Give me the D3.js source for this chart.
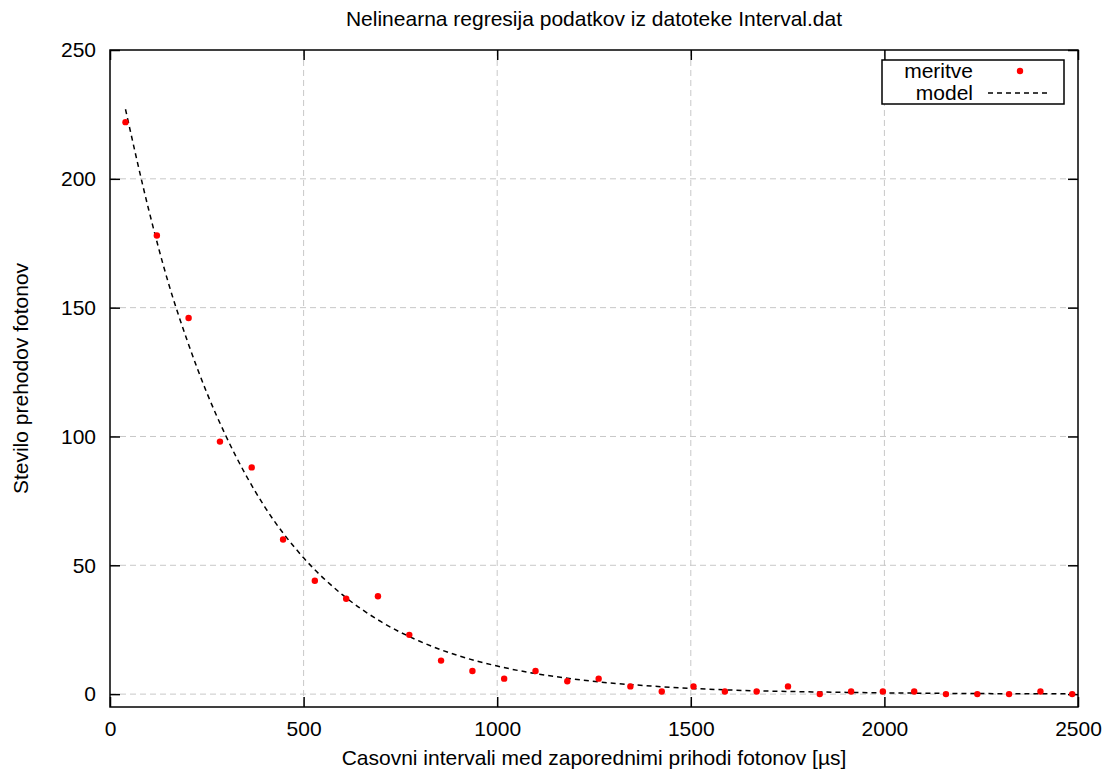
<!DOCTYPE html>
<html>
<head>
<meta charset="utf-8">
<script src="https://cdn.jsdelivr.net/npm/d3@7"></script>
<style>
  body { margin: 0; background: #fff; }
  text { font-family: "Liberation Sans", Arial, sans-serif; fill: #000; }
</style>
</head>
<body>
<svg id="chart" width="1107" height="776"></svg>
<script>
// measured points (interval in us, number of transitions)
const meritveX = [40, 121, 203, 284, 366, 447, 529, 610, 692, 773, 855, 936, 1018, 1099, 1181,
  1262, 1344, 1425, 1507, 1588, 1670, 1751, 1833, 1914, 1996, 2077, 2159, 2240, 2322, 2403, 2485];
const meritveY = [222, 178, 146, 98, 88, 60, 44, 37, 38, 23, 13, 9, 6, 9, 5,
  6, 3, 1, 3, 1, 1, 3, 0, 1, 1, 1, 0, 0, 0, 1, 0];

// fitted model curve
const modelX = [40, 100, 150, 200, 250, 300, 400, 500, 600, 700, 800, 900, 1000, 1200, 1400,
  1600, 1800, 2000, 2200, 2480];
const modelY = [227, 188, 160, 137, 117, 100, 72.6, 52.9, 38.6, 28.1, 20.5, 14.9, 10.9, 5.8, 3.1,
  1.6, 0.9, 0.5, 0.25, 0.1];

const xTicks = [0, 500, 1000, 1500, 2000, 2500];
const yTicks = [0, 50, 100, 150, 200, 250];

const mLeft = 110, mRight = 1078, mTop = 50, mBottom = 707;
const fs = "21px";
const svg = d3.select("#chart");

const x = d3.scaleLinear().domain([0, 2500]).range([mLeft, mRight]);
const y = d3.scaleLinear().domain([-5, 250]).range([mBottom, mTop]);

// grid
const grid = svg.append("g");
grid.selectAll("line.gx")
  .data(xTicks.filter(d => d > 0 && d < 2500))
  .join("line")
  .attr("x1", d => x(d)).attr("x2", d => x(d))
  .attr("y1", mTop).attr("y2", mBottom)
  .attr("stroke", "#c8c8c8").attr("stroke-width", 1).attr("stroke-dasharray", "6,4");
grid.selectAll("line.gy")
  .data(yTicks.filter(d => d < 250))
  .join("line")
  .attr("x1", mLeft).attr("x2", mRight)
  .attr("y1", d => y(d)).attr("y2", d => y(d))
  .attr("stroke", "#c8c8c8").attr("stroke-width", 1).attr("stroke-dasharray", "6,4");

// axes, ticks drawn inward and mirrored
svg.append("g").attr("transform", `translate(0,${mBottom})`)
  .call(d3.axisBottom(x).tickValues(xTicks).tickSize(-10).tickPadding(14).tickFormat(d3.format("d")));
svg.append("g").attr("transform", `translate(0,${mTop})`)
  .call(d3.axisTop(x).tickValues(xTicks).tickSize(-10).tickFormat(""));
svg.append("g").attr("transform", `translate(${mLeft},0)`)
  .call(d3.axisLeft(y).tickValues(yTicks).tickSize(-10).tickPadding(14).tickFormat(d3.format("d")));
svg.append("g").attr("transform", `translate(${mRight},0)`)
  .call(d3.axisRight(y).tickValues(yTicks).tickSize(-10).tickFormat(""));

svg.selectAll(".domain").remove();
svg.selectAll(".tick line").attr("stroke", "#000").attr("stroke-width", 1.5);
svg.selectAll(".tick text").style("font-size", fs)
  .style("font-family", "'Liberation Sans', Arial, sans-serif");

svg.append("rect")
  .attr("x", mLeft).attr("y", mTop)
  .attr("width", mRight - mLeft).attr("height", mBottom - mTop)
  .attr("fill", "none").attr("stroke", "#000").attr("stroke-width", 1.5);

// model
const line = d3.line()
  .x(d => x(d[0])).y(d => y(d[1]))
  .curve(d3.curveMonotoneX);
svg.append("path")
  .datum(d3.zip(modelX, modelY))
  .attr("d", line)
  .attr("fill", "none").attr("stroke", "#000")
  .attr("stroke-width", 1.5).attr("stroke-dasharray", "5,4");

// points
svg.append("g").selectAll("circle")
  .data(d3.zip(meritveX, meritveY))
  .join("circle")
  .attr("cx", d => x(d[0])).attr("cy", d => y(d[1]))
  .attr("r", 3.2).attr("fill", "#ff0000");

// legend
const lg = svg.append("g");
lg.append("rect").attr("x", 882).attr("y", 60).attr("width", 182).attr("height", 44)
  .attr("fill", "#fff").attr("stroke", "#000").attr("stroke-width", 1.5);
lg.append("text").attr("x", 973).attr("y", 78).attr("text-anchor", "end")
  .style("font-size", fs).text("meritve");
lg.append("circle").attr("cx", 1020).attr("cy", 71).attr("r", 3.2).attr("fill", "#ff0000");
lg.append("text").attr("x", 973).attr("y", 100).attr("text-anchor", "end")
  .style("font-size", fs).text("model");
lg.append("line").attr("x1", 988).attr("x2", 1051).attr("y1", 93).attr("y2", 93)
  .attr("stroke", "#000").attr("stroke-width", 1.5).attr("stroke-dasharray", "5,4");

// title and labels
svg.append("text").attr("x", (mLeft + mRight) / 2).attr("y", 26).attr("text-anchor", "middle")
  .style("font-size", fs).text("Nelinearna regresija podatkov iz datoteke Interval.dat");
svg.append("text").attr("x", (mLeft + mRight) / 2).attr("y", 765).attr("text-anchor", "middle")
  .style("font-size", fs).text("Casovni intervali med zaporednimi prihodi fotonov [\u00b5s]");
svg.append("text").attr("transform", `translate(28,${(mTop + mBottom) / 2}) rotate(-90)`)
  .attr("text-anchor", "middle")
  .style("font-size", fs).text("Stevilo prehodov fotonov");
</script>
</body>
</html>
